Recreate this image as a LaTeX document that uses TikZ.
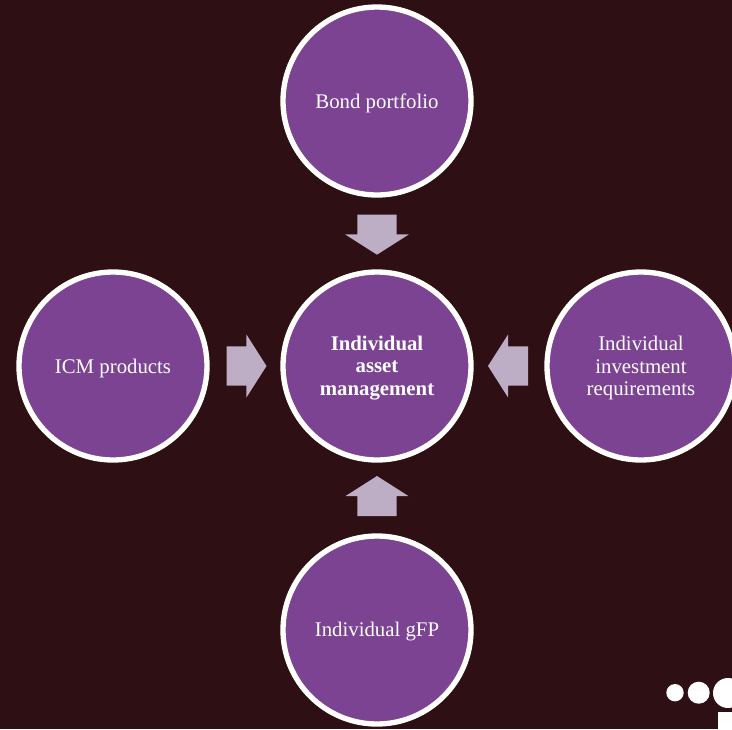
\documentclass[tikz,border=0pt]{standalone}
\usepackage{fontspec}
\setmainfont{Liberation Serif}
\usetikzlibrary{shapes.arrows}
\definecolor{bgcol}{HTML}{2D0F14}
\definecolor{circfill}{HTML}{7B4391}
\definecolor{arrowfill}{HTML}{BDAEC6}
\newcommand\dn[1]{\raisebox{-1.5pt}[\height][\depth]{#1}}
\newcommand\hshaft{\rule{0pt}{29pt}}
\newcommand\vshaft{\rule{29pt}{0pt}}
\tikzset{
  bubble/.style={circle,draw=white,line width=4pt,fill=circfill,text=white,minimum size=141pt,
    inner sep=0pt,outer sep=0pt,align=center,font=\fontsize{15.6pt}{16.6pt}\selectfont},
  blockarrow/.style={single arrow,fill=arrowfill,draw=none,inner sep=0pt,outer sep=0pt,anchor=tip,
    minimum width=47.25pt,minimum height=30pt,single arrow head extend=9.1pt,
    single arrow tip angle=115},
  logodot/.style={circle,fill=white,draw=none,inner sep=0pt,outer sep=0pt}
}
\begin{document}
\begin{tikzpicture}[x=0.75pt,y=-0.75pt]
\useasboundingbox (0,0) rectangle (732,729);
\clip (0,0) rectangle (732,729);
\fill[bgcol] (0,0) rectangle (732,729);
\node[bubble] (top) at (377,101) {\dn{Bond portfolio}};
\node[bubble] (left) at (113,366) {\dn{ICM products}};
\node[bubble] (center) at (377,366) {\dn{\textbf{Individual}}\\\dn{\textbf{asset}}\\\dn{\textbf{management}}};
\node[bubble] (right) at (641,366) {\dn{Individual}\\\dn{investment}\\\dn{requirements}};
\node[bubble] (bottom) at (377,630) {\dn{Individual gFP}};
\node[blockarrow,shape border rotate=270] (atop) at (377,254.7) {\vshaft};
\node[blockarrow,shape border rotate=0] (aleft) at (266.5,366) {\hshaft};
\node[blockarrow,shape border rotate=180] (aright) at (488,366) {\hshaft};
\node[blockarrow,shape border rotate=90] (abottom) at (377,476) {\vshaft};
\node[logodot,minimum size=13pt] (d1) at (675,692.7) {};
\node[logodot,minimum size=16.5pt] (d2) at (698.7,692.7) {};
\node[logodot,minimum size=22.5pt] (d3) at (728,693) {};
\fill[white] (718,712.3) rectangle (732,729);
\end{tikzpicture}
\end{document}
